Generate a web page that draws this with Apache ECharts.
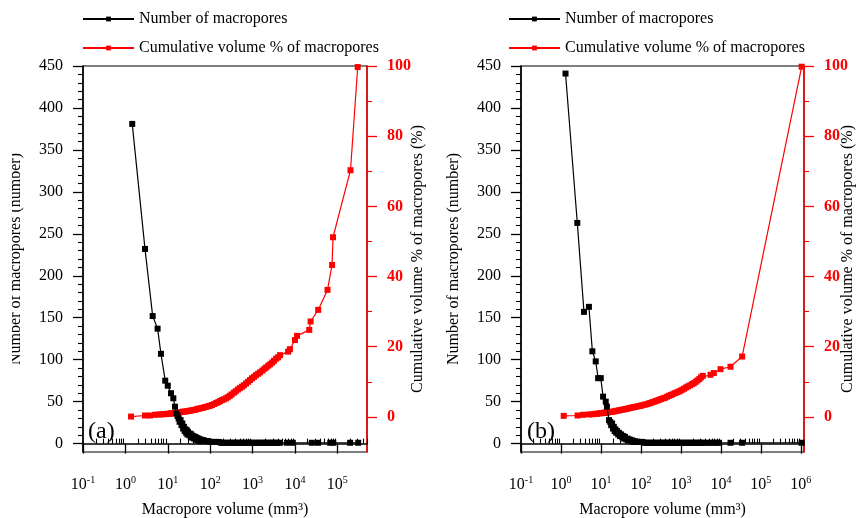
<!DOCTYPE html>
<html>
<head>
<meta charset="utf-8">
<script src="https://cdn.jsdelivr.net/npm/echarts@6/dist/echarts.min.js"></script>
<style>
  html, body { margin: 0; padding: 0; background: #fff; }
  #main { width: 863px; height: 518px; }
</style>
</head>
<body>
<div id="main"></div>
<script>
// series names
var nameCount = 'Number of macropores';
var nameCum = 'Cumulative volume % of macropores';

// (a) number of macropores
var aCountX = [1.45, 2.9, 4.4, 5.75, 6.9, 8.7, 10, 11.9, 13.5, 14.8,
  16, 17, 18, 19, 20, 21, 22, 23, 24, 25, 26, 27, 28, 29, 30, 32, 33, 35, 36, 38, 40, 42, 44, 46, 48, 50, 53, 56, 59, 62, 66,
  70, 75, 80, 90, 100, 110, 125, 140, 160, 180,
  200, 230, 260, 300, 340, 380, 430, 490, 550, 620, 700, 800, 900, 1000, 1150, 1300, 1450, 1650, 1850, 2100, 2400, 2700, 3000, 3400, 3800, 4400,
  6500, 8900, 25000, 35000, 68000, 80000, 200000, 310000];
var aCountY = [381, 232, 152, 137, 107, 75, 69, 60, 54, 44,
  36, 33, 30, 26, 28, 22, 24, 18, 20, 15, 17, 13, 16, 11, 14, 10, 12, 8, 11, 7, 9, 6, 8, 5, 7, 4, 6, 3, 5, 3, 4,
  4, 3, 3, 3, 2, 2, 2, 2, 2, 1,
  1, 1, 1, 1, 1, 1, 1, 1, 1, 1, 1, 1, 1, 1, 1, 1, 1, 1, 1, 1, 1, 1, 1, 1, 1, 1,
  1, 1, 1, 1, 1, 1, 1, 1];

// (a) cumulative volume %
var aCumX = [1.36, 2.9, 3.8, 5, 6, 7, 8, 9, 10, 11, 12, 13, 14, 15,
  17, 19, 21, 23, 25, 28, 31, 34, 38, 42, 46, 51, 56, 62, 68, 75, 83, 92, 100,
  110, 125, 140, 155, 170, 190, 210, 235, 260, 290, 320, 360, 400, 450, 500, 560, 620, 700, 780, 870, 970,
  1080, 1200, 1350, 1500, 1700, 1900, 2100, 2350, 2600, 2900, 3200, 3600, 4000, 4450,
  6900, 7600, 10000, 11200, 21700, 23400, 35300, 58500, 75000, 79000, 204000, 302000];
var aCumY = [0.1, 0.4, 0.4, 0.6, 0.7, 0.7, 0.8, 0.8, 0.9, 0.9, 1.0, 1.0, 1.1, 1.1,
  1.2, 1.3, 1.4, 1.5, 1.5, 1.6, 1.7, 1.8, 1.9, 2.0, 2.1, 2.3, 2.4, 2.5, 2.6, 2.8, 2.9, 3.1, 3.2,
  3.4, 3.7, 4.0, 4.2, 4.5, 4.8, 5.0, 5.3, 5.6, 6.0, 6.4, 6.9, 7.3, 7.8, 8.2, 8.6, 9.0, 9.5, 10.0, 10.5, 11.0,
  11.4, 11.9, 12.3, 12.7, 13.2, 13.7, 14.1, 14.6, 15.0, 15.5, 16.0, 16.6, 17.0, 17.6,
  18.6, 19.3, 21.9, 23.1, 24.8, 27.2, 30.5, 36.2, 43.3, 51.2, 70.3, 99.7];

// (b) number of macropores
var bCountX = [1.3, 2.56, 3.76, 5.0, 6.1, 7.4, 8.5, 9.9, 11.3, 13.2, 14.1, 15.9,
  17, 18, 19, 20, 21, 22, 23, 24, 25, 27, 28, 30, 32, 34, 36, 38, 40, 43, 46, 49, 52, 56, 60, 64,
  70, 75, 80, 90, 100, 110,
  125, 140, 160, 180, 200, 230, 260, 300, 340, 380, 430, 490, 550, 620, 700, 800, 900, 1000, 1150, 1300, 1450, 1650, 1850, 2100, 2400, 2700, 3000, 3300, 3700,
  4600, 5500, 6600, 7800, 9000, 17400, 34000, 1050000];
var bCountY = [441, 263, 157, 163, 110, 98, 78, 78, 56, 50, 44, 28,
  26, 22, 24, 18, 20, 15, 17, 13, 15, 11, 13, 9, 11, 8, 9, 6, 8, 5, 6, 4, 5, 3, 4, 2,
  3, 2, 2, 2, 2, 2,
  1, 1, 1, 1, 1, 1, 1, 1, 1, 1, 1, 1, 1, 1, 1, 1, 1, 1, 1, 1, 1, 1, 1, 1, 1, 1, 1, 1, 1,
  1, 1, 1, 1, 1, 1, 1, 1];

// (b) cumulative volume %
var bCumX = [1.17, 2.6, 3.55, 5, 6, 7, 8, 9, 10, 11, 12, 13, 14, 15,
  17, 19, 21, 23, 25, 28, 31, 34, 38, 42, 46, 51, 56, 62, 68, 75, 83, 92, 100,
  110, 125, 140, 155, 170, 190, 210, 235, 260, 290, 320, 360, 400, 450, 500, 560, 620, 700, 780, 870, 970,
  1080, 1200, 1350, 1500, 1700, 1900, 2100, 2350, 2600, 2900, 3200, 3530,
  5500, 6650, 9800, 17400, 34000, 1050000];
var bCumY = [0.3, 0.4, 0.6, 0.7, 0.75, 0.85, 0.9, 1.0, 1.05, 1.1, 1.2, 1.2, 1.3, 1.3,
  1.4, 1.45, 1.55, 1.65, 1.75, 1.85, 1.95, 2.05, 2.15, 2.25, 2.35, 2.5, 2.6, 2.7, 2.8, 2.9, 3.0, 3.1, 3.2,
  3.35, 3.5, 3.6, 3.8, 3.95, 4.15, 4.3, 4.5, 4.7, 4.9, 5.1, 5.3, 5.45, 5.75, 6.0, 6.25, 6.45, 6.75, 6.95, 7.2, 7.45,
  7.75, 8.05, 8.4, 8.7, 9.0, 9.35, 9.6, 10.0, 10.4, 10.8, 11.3, 11.7,
  12.0, 12.5, 13.6, 14.3, 17.2, 99.8];

// tick values
var countTicks = [0, 50, 100, 150, 200, 250, 300, 350, 400, 450];
var cumTicks = [0, 20, 40, 60, 80, 100];
var aDecades = [0.1, 1, 10, 100, 1000, 10000, 100000];
var bDecades = [0.1, 1, 10, 100, 1000, 10000, 100000, 1000000];

var FONT = "'Liberation Serif', 'Times New Roman', serif";
var RED = '#ff0000';

function pairs(xs, ys) {
  return xs.map(function (x, i) { return [x, ys[i]]; });
}
function minorOf(major, step) {
  var out = [];
  for (var v = major[0] + step; v <= major[major.length - 1]; v += step) {
    if (major.indexOf(v) < 0) out.push(v);
  }
  return out;
}
function logMinor(decades, max) {
  var out = [];
  decades.forEach(function (d) {
    for (var k = 2; k <= 9; k++) {
      var v = d * k;
      if (v <= max) out.push(v);
    }
  });
  return out;
}
function expLabel(v) {
  var e = Math.round(Math.log10(v));
  return '{b|10}{s|' + e + '}';
}

function xAxes(grid, max, decades) {
  return [{
    type: 'log', gridIndex: grid, min: 0.1, max: max, logBase: 10,
    name: 'Macropore volume (mm³)', nameLocation: 'middle', nameGap: 50,
    nameTextStyle: { fontFamily: FONT, fontSize: 16, color: '#000' },
    axisLine: { lineStyle: { color: '#000', width: 1.5 } },
    axisTick: { customValues: decades, length: 10, lineStyle: { color: '#000', width: 1.3 } },
    axisLabel: {
      customValues: decades, margin: 23, formatter: expLabel,
      rich: {
        b: { fontFamily: FONT, fontSize: 16, color: '#000', lineHeight: 20 },
        s: { fontFamily: FONT, fontSize: 10, color: '#000', lineHeight: 10, verticalAlign: 'top' }
      }
    },
    splitLine: { show: false }
  }, {
    type: 'log', gridIndex: grid, min: 0.1, max: max, logBase: 10,
    axisLine: { show: false },
    axisTick: { customValues: logMinor(decades, max), length: 5, lineStyle: { color: '#000', width: 1.1 } },
    axisLabel: { show: false },
    splitLine: { show: false }
  }];
}

function yAxes(grid, leftGap, rightGap) {
  return [{
    type: 'value', gridIndex: grid, position: 'left', min: -10, max: 450,
    name: 'Number of macropores (number)', nameLocation: 'middle', nameGap: leftGap,
    nameTextStyle: { fontFamily: FONT, fontSize: 16, color: '#000' },
    axisLine: { show: true, lineStyle: { color: '#000', width: 1.5 } },
    axisTick: { show: true, customValues: countTicks, length: 10, lineStyle: { color: '#000', width: 1.3 } },
    axisLabel: { customValues: countTicks, margin: 20, fontFamily: FONT, fontSize: 16, color: '#000' },
    splitLine: { show: false }
  }, {
    type: 'value', gridIndex: grid, position: 'left', offset: 0, min: -10, max: 450,
    axisLine: { show: false },
    axisTick: { show: true, customValues: minorOf(countTicks, 10), length: 5, lineStyle: { color: '#000', width: 1.1 } },
    axisLabel: { show: false },
    splitLine: { show: false }
  }, {
    type: 'value', gridIndex: grid, position: 'right', min: -10, max: 100,
    name: 'Cumulative volume % of macropores (%)', nameLocation: 'middle', nameGap: rightGap,
    nameMoveOverlap: false,
    nameTextStyle: { fontFamily: FONT, fontSize: 16, color: '#000' },
    axisLine: { show: true, lineStyle: { color: RED, width: 1.5 } },
    axisTick: { show: true, customValues: cumTicks, length: 10, lineStyle: { color: RED, width: 1.3 } },
    axisLabel: { customValues: cumTicks, margin: 20, fontFamily: FONT, fontSize: 16, fontWeight: 'bold', color: RED },
    splitLine: { show: false }
  }, {
    type: 'value', gridIndex: grid, position: 'right', offset: 0, min: -10, max: 100,
    axisLine: { show: false },
    axisTick: { show: true, customValues: minorOf(cumTicks, 10), length: 5, lineStyle: { color: RED, width: 1.1 } },
    axisLabel: { show: false },
    splitLine: { show: false }
  }];
}

function lineSeries(name, data, xi, yi, color, z) {
  return {
    name: name, type: 'line', xAxisIndex: xi, yAxisIndex: yi, data: data,
    symbol: 'rect', symbolSize: 6, showAllSymbol: true, z: z,
    lineStyle: { color: color, width: 1.2 },
    itemStyle: { color: color },
    emphasis: { disabled: true }
  };
}

function legend(left) {
  return {
    left: left, top: 6, orient: 'vertical', data: [nameCount, nameCum],
    itemWidth: 51, itemHeight: 6, itemGap: 13,
    textStyle: { fontFamily: FONT, fontSize: 16, color: '#000', lineHeight: 16 }
  };
}

var chart = echarts.init(document.getElementById('main'), null, { renderer: 'canvas' });
chart.setOption({
  animation: false,
  backgroundColor: '#fff',
  title: [
    { text: '(a)', left: 88, top: 420, padding: 0, textStyle: { fontFamily: FONT, fontSize: 24, fontWeight: 'normal', color: '#000' } },
    { text: '(b)', left: 527, top: 420, padding: 0, textStyle: { fontFamily: FONT, fontSize: 24, fontWeight: 'normal', color: '#000' } }
  ],
  legend: [legend(77), legend(503)],
  grid: [
    { left: 83, top: 66, width: 284, height: 386, outerBoundsMode: 'none', containLabel: false,
      show: true, borderColor: '#000', borderWidth: 1.2 },
    { left: 521, top: 66, width: 283, height: 386, outerBoundsMode: 'none', containLabel: false,
      show: true, borderColor: '#000', borderWidth: 1.2 }
  ],
  xAxis: xAxes(0, 500000, aDecades).concat(xAxes(1, 1200000, bDecades)),
  yAxis: yAxes(0, 59, 43).concat(yAxes(1, 59, 36)),
  series: [
    lineSeries(nameCum, pairs(aCumX, aCumY), 0, 2, RED, 2),
    lineSeries(nameCount, pairs(aCountX, aCountY), 0, 0, '#000', 3),
    lineSeries(nameCum, pairs(bCumX, bCumY), 2, 6, RED, 2),
    lineSeries(nameCount, pairs(bCountX, bCountY), 2, 4, '#000', 3)
  ],
  graphic: [
    // the source figure is cropped through the left axis title of panel (a)
    { type: 'rect', left: 0, top: 120, shape: { width: 12, height: 300 }, style: { fill: '#fff' }, z: 100 }
  ]
});
</script>
</body>
</html>
